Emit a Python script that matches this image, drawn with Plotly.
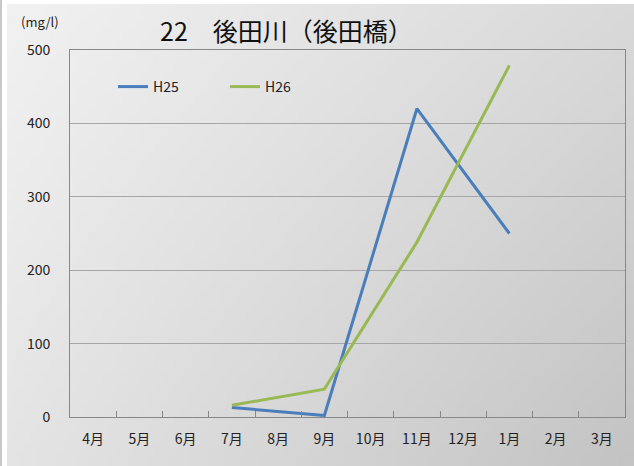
import base64, struct, zlib
import plotly.graph_objects as go

months = ["4月", "5月", "6月", "7月", "8月", "9月", "10月", "11月", "12月", "1月", "2月", "3月"]
h25 = [None, None, None, 13, None, 2, None, 420, None, 250, None, None]
h26 = [None, None, None, 16, None, 38, None, 238, None, 479, None, None]
y_ticks = [0, 100, 200, 300, 400, 500]


def gradient_png(w, h, tl, tr, bl, br):
    rows = b""
    for j in range(h):
        v = j / (h - 1)
        row = b"\x00"
        for i in range(w):
            u = i / (w - 1)
            c = tl * (1 - u) * (1 - v) + tr * u * (1 - v) + bl * (1 - u) * v + br * u * v
            c = int(round(c))
            row += bytes([c, c, c])
        rows += row

    def chunk(tag, data):
        c = struct.pack(">I", len(data)) + tag + data
        return c + struct.pack(">I", zlib.crc32(tag + data) & 0xffffffff)

    png = b"\x89PNG\r\n\x1a\n"
    png += chunk(b"IHDR", struct.pack(">IIBBBBB", w, h, 8, 2, 0, 0, 0))
    png += chunk(b"IDAT", zlib.compress(rows))
    png += chunk(b"IEND", b"")
    return "data:image/png;base64," + base64.b64encode(png).decode()


bg = gradient_png(96, 72, 241, 217, 228, 195)

fig = go.Figure()
fig.add_trace(go.Scatter(x=months, y=h25, name="H25", mode="lines", connectgaps=True,
                         line=dict(color="#4A7EBB", width=3)))
fig.add_trace(go.Scatter(x=months, y=h26, name="H26", mode="lines", connectgaps=True,
                         line=dict(color="#98B954", width=3)))

font = "Noto Sans CJK JP, sans-serif"
fig.update_layout(
    width=634, height=466,
    margin=dict(l=0, r=0, t=0, b=0),
    paper_bgcolor="white",
    plot_bgcolor="white",
    font=dict(family=font, size=14, color="#222"),
    showlegend=True,
    legend=dict(orientation="h", x=113 / 634, y=1 - 87 / 466, xanchor="left", yanchor="middle",
                bgcolor="rgba(0,0,0,0)", font=dict(size=14, color="#222"),
                entrywidth=67, entrywidthmode="pixels"),
    images=[dict(source=bg, xref="paper", yref="paper", x=7 / 634, y=1 - 4 / 466,
                 sizex=1 - 7 / 634, sizey=1 - 4 / 466,
                 xanchor="left", yanchor="top", sizing="stretch", layer="below")],
    shapes=[dict(type="line", xref="paper", yref="paper", x0=1 / 634, x1=1 / 634, y0=0, y1=1,
                 line=dict(color="#c8c8c8", width=2), layer="below")],
    xaxis=dict(domain=[70 / 634, 625 / 634], type="category", categoryorder="array",
               categoryarray=months, range=[-0.5, 11.5], tickson="boundaries",
               ticks="inside", ticklen=6, tickcolor="#888", showgrid=False,
               showline=True, linecolor="#888", linewidth=1, mirror=True, automargin=False,
               ticklabelstandoff=9, tickfont=dict(size=14, color="#222")),
    yaxis=dict(domain=[49 / 466, 416 / 466], range=[0, 500], tickvals=y_ticks,
               showgrid=True, gridcolor="#a6a6a6", gridwidth=1, zeroline=False,
               showline=True, linecolor="#888", linewidth=1, mirror=True, automargin=False,
               ticks="", ticklabelstandoff=16, tickfont=dict(size=14, color="#222")),
    annotations=[
        dict(text="22　後田川（後田橋）", xref="paper", yref="paper", x=158 / 634,
             y=1 - 30 / 466, xanchor="left", yanchor="middle", showarrow=False,
             font=dict(size=25, color="#111", family=font)),
        dict(text="(mg/l)", xref="paper", yref="paper", x=40 / 634,
             y=1 - 22 / 466, xanchor="center", yanchor="middle", showarrow=False,
             font=dict(size=13, color="#222", family=font)),
    ],
)

fig.write_html("out.html", config={"displayModeBar": False},
               post_script="document.body.style.margin='0';")
